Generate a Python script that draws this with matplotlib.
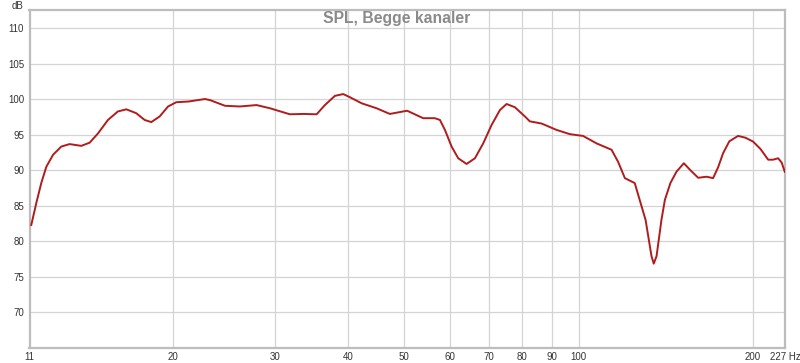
import matplotlib
matplotlib.use("Agg")
import matplotlib.pyplot as plt
from matplotlib.ticker import FixedLocator, NullLocator

# frekvens (Hz) og SPL (dB), aflæst fra målingen
frekvens = [11.38, 11.61, 11.84, 12.08, 12.41, 12.82, 13.25, 13.88, 14.35, 14.83,
            15.43, 16.05, 16.60, 17.27, 17.85, 18.33, 18.95, 19.59, 20.24, 21.24,
            22.68, 23.14, 24.56, 26.06, 27.84, 29.36, 31.78, 33.50, 35.34, 36.52,
            38.00, 39.28, 40.34, 42.26, 44.84, 47.26, 49.84, 50.63, 53.96, 56.51,
            57.67, 58.82, 60.40, 62.01, 64.10, 66.26, 68.48, 70.80, 73.18, 75.14,
            77.64, 80.80, 82.42, 86.32, 91.62, 96.6, 101.8, 107.4, 114.0, 117.0,
            120.2, 125.0, 130.5, 133.6, 134.8, 136.3, 139.0, 140.9, 144.0, 147.5,
            151.9, 156.0, 160.8, 166.2, 170.6, 174.0, 177.5, 182.0, 188.4, 194.0,
            200.0, 206.0, 212.3, 216.5, 220.9, 224.0, 226.8]
spl = [82.3, 85.4, 88.2, 90.5, 92.2, 93.35, 93.7, 93.45, 93.9, 95.2,
       97.1, 98.3, 98.6, 98.05, 97.1, 96.8, 97.6, 99.0, 99.6, 99.7,
       100.05, 99.9, 99.1, 99.0, 99.2, 98.75, 97.9, 97.95, 97.9, 99.2,
       100.5, 100.75, 100.3, 99.45, 98.75, 97.95, 98.3, 98.4, 97.35, 97.35,
       97.1, 95.7, 93.35, 91.7, 90.9, 91.7, 93.8, 96.4, 98.5, 99.35,
       98.9, 97.6, 96.9, 96.6, 95.7, 95.1, 94.85, 93.8, 92.9, 91.2,
       88.9, 88.2, 83.0, 77.9, 76.85, 77.9, 83.05, 85.85, 88.2, 89.8,
       91.0, 90.0, 88.95, 89.1, 88.9, 90.4, 92.4, 94.1, 94.85, 94.6,
       94.05, 93.0, 91.5, 91.5, 91.7, 91.1, 89.8]

x_ticks = [11.3, 20, 30, 40, 50, 60, 70, 80, 90, 100, 200, 227]
x_labels = ["11", "20", "30", "40", "50", "60", "70", "80", "90", "100", "200", "227 Hz"]
x_grid = [20, 30, 40, 50, 60, 70, 80, 90, 100, 200]
y_ticks = [70, 75, 80, 85, 90, 95, 100, 105, 110]

plt.rcParams['font.family'] = ['Liberation Sans', 'DejaVu Sans']

fig = plt.figure(figsize=(8, 3.63), dpi=100)
ax = fig.add_axes([29.5 / 800, 15.3 / 363, 755.5 / 800, 337.7 / 363])

ax.set_xscale('log')
ax.set_xlim(11.3, 227)
ax.set_ylim(65, 112.6)

for g in x_grid:
    ax.axvline(g, color='#d4d4d4', lw=0.9, zorder=1)
for g in y_ticks:
    ax.axhline(g, color='#d4d4d4', lw=0.9, zorder=1)

ax.plot(frekvens, spl, color='#b01c1c', lw=1.4, zorder=3, solid_joinstyle='round')

ax.xaxis.set_major_locator(FixedLocator(x_ticks))
ax.xaxis.set_minor_locator(NullLocator())
ax.set_xticklabels(x_labels)
ax.set_yticks(y_ticks)
ax.set_yticklabels([str(v) for v in y_ticks])
ax.tick_params(axis='both', length=0, labelsize=7, colors='#333333')
ax.tick_params(axis='x', pad=3)
ax.tick_params(axis='y', pad=4)

for side in ['left', 'bottom', 'right', 'top']:
    ax.spines[side].set_color('#bdbdbd')
    ax.spines[side].set_linewidth(1.6)

fig.text(17 / 800, 1 - 6 / 363, "dB", fontsize=7, color='#333333', ha='center', va='center')
fig.text(397 / 800, 1 - 19 / 363, "SPL, Begge kanaler", fontsize=11.3, fontweight='bold',
         color='#8a8a8a', ha='center', va='center')

fig.savefig("out.png", dpi=100)
